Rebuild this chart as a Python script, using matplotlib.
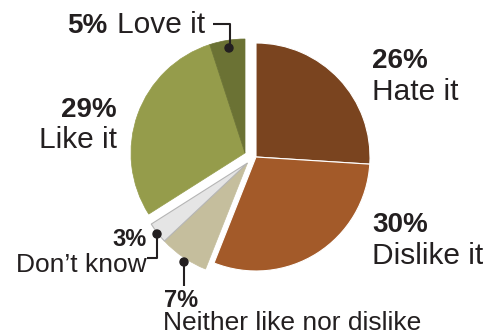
import matplotlib.pyplot as plt
from matplotlib.patches import Circle

W, H = 498, 335

labels = ["Hate it", "Dislike it", "Neither like nor dislike", "Don\u2019t know", "Like it", "Love it"]
values = [26, 30, 7, 3, 29, 5]
colors = ["#7a441f", "#a35a29", "#c5be9d", "#e5e5e5", "#959c4b", "#6b7234"]

plt.rcParams['font.family'] = ['Liberation Sans', 'DejaVu Sans']
txt = "#231f20"

fig = plt.figure(figsize=(W / 100, H / 100), dpi=100)
ax = fig.add_axes([0, 0, 1, 1])
ax.axis('off')


def py(y):
    # image y (from top) -> data y
    return H - y


cx, cy, r = 256, 157, 114
wedges, _ = ax.pie(values, colors=colors, startangle=90,
                   counterclock=False, radius=r, center=(cx, py(cy)),
                   wedgeprops=dict(edgecolor="white", linewidth=0.8))
for w, c in zip(wedges[2:], colors[2:]):
    w.set_edgecolor(c)
    w.set_linewidth(0.5)
wedges[3].set_edgecolor("#b5b5b5")
wedges[3].set_linewidth(0.8)

# pulled-out groups: neither + don't know, like + love
for w in wedges[2:4]:
    w.set_center((cx - 8.5, py(cy + 6)))
for w in wedges[4:6]:
    w.set_center((cx - 11, py(cy - 4)))

ax.set_xlim(0, W)
ax.set_ylim(0, H)
ax.set_aspect('equal')

# labels
ax.text(372, py(68), "26%", fontsize=20, fontweight="bold", color=txt)
ax.text(372, py(100), labels[0], fontsize=21.5, color=txt)
ax.text(372, py(232), "30%", fontsize=20, fontweight="bold", color=txt)
ax.text(372, py(264), labels[1], fontsize=21.5, color=txt)
ax.text(117, py(117), "29%", fontsize=20, fontweight="bold", color=txt, ha="right")
ax.text(117, py(148), labels[4], fontsize=21.5, color=txt, ha="right")
ax.text(67, py(33), "5%", fontsize=20, fontweight="bold", color=txt)
ax.text(117, py(33), labels[5], fontsize=21.5, color=txt)
ax.text(147, py(246), "3%", fontsize=17, fontweight="bold", color=txt, ha="right")
ax.text(147, py(272), labels[3], fontsize=19, color=txt, ha="right")
ax.text(164, py(307), "7%", fontsize=17, fontweight="bold", color=txt)
ax.text(163, py(330), labels[2], fontsize=19, color=txt)

# leader lines
lk = dict(color=txt, linewidth=1.5, solid_capstyle="butt")
ax.plot([213, 230, 230], [py(24), py(24), py(48)], **lk)
ax.add_patch(Circle((229, py(48)), 4, color=txt))
ax.plot([147, 157, 157], [py(258), py(258), py(234)], **lk)
ax.add_patch(Circle((157, py(234)), 4, color=txt))
ax.plot([184, 184], [py(262), py(286)], **lk)
ax.add_patch(Circle((184, py(262)), 4, color=txt))

fig.savefig("out.png", dpi=100)
